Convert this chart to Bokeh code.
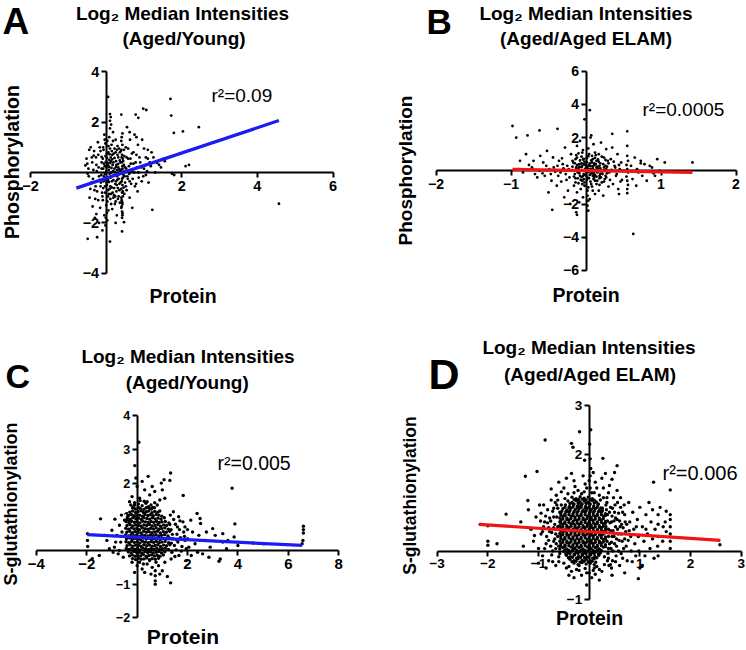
import math
from bokeh.plotting import figure
from bokeh.models import Range1d, LinearAxis, FixedTicker, Label
from bokeh.layouts import column, row
from bokeh.embed import file_html
from bokeh.resources import INLINE

# ---------------- data ----------------
a_points = [
    (0.05,3.0),(1.70,2.92),(1.72,2.26),(0.98,2.53),(1.06,2.48),(0.78,2.30),(0.85,2.17),(2.45,1.80),(1.79,1.57),(2.03,1.63),
    (0.10,2.32),(0.12,2.20),(0.10,2.05),(0.13,1.90),(0.10,1.75),(0.40,2.30),(4.57,-1.24),(1.22,-1.48),(-0.24,-2.57),(-0.49,-2.63),
    (0.10,-2.74),(-0.10,-2.30),(0.42,-2.34),(0.47,-1.97),(0.25,-2.00),(0.69,-1.40),(2.10,0.25),(2.19,0.30),(1.74,-0.05),(1.80,-0.10),
    (1.35,0.38),(1.51,0.54),(-0.55,0.28),(-0.49,-0.05),(-0.41,1.00),(-0.33,0.67),(0.62,1.60),(0.80,1.40),(1.10,0.90),(1.20,0.80),
    (-0.45,0.90),(-0.38,0.60),(-0.50,0.35),(-0.34,0.10),(-0.46,-0.15),(-0.40,-0.40),(-0.31,-0.70),(-0.44,-1.00),(-0.36,-1.35),(-0.30,-1.80),
    (-0.22,1.20),(-0.15,0.85),(-0.27,0.60),(-0.12,0.40),(-0.20,0.20),(-0.25,0.05),(-0.13,-0.10),(-0.18,-0.30),(-0.28,-0.55),(-0.11,-0.80),
    (-0.21,-1.10),(-0.16,-1.40),(-0.26,-1.65),(-0.19,-2.00),
    (-0.05,1.50),(0.03,1.25),(-0.08,1.00),(0.06,0.80),(-0.02,0.65),(0.08,0.50),(-0.06,0.35),(0.01,0.20),(0.07,0.10),(-0.04,-0.05),
    (0.04,-0.20),(-0.07,-0.35),(0.02,-0.50),(0.09,-0.65),(-0.03,-0.80),(0.05,-0.95),(-0.09,-1.10),(0.00,-1.30),(0.06,-1.50),(-0.05,-1.70),
    (0.03,-1.90),(-0.02,-2.10),
    (0.18,1.60),(0.25,1.30),(0.14,1.10),(0.28,0.90),(0.20,0.75),(0.12,0.60),(0.26,0.45),(0.17,0.30),(0.22,0.15),(0.13,0.00),
    (0.29,-0.15),(0.19,-0.30),(0.24,-0.45),(0.15,-0.60),(0.27,-0.75),(0.21,-0.90),(0.11,-1.05),(0.23,-1.25),(0.16,-1.45),(0.28,-1.70),
    (0.41,1.40),(0.43,1.10),(0.40,0.90),(0.42,0.70),(0.44,0.55),(0.41,0.40),(0.43,0.25),(0.40,0.10),(0.42,-0.05),(0.44,-0.20),
    (0.41,-0.35),(0.43,-0.50),(0.40,-0.65),(0.42,-0.80),(0.44,-0.95),(0.41,-1.10),(0.43,-1.25),(0.40,-1.40),(0.42,-1.55),(0.43,-1.70),
    (0.55,1.80),(0.63,1.30),(0.52,1.00),(0.68,0.75),(0.58,0.55),(0.65,0.35),(0.53,0.15),(0.61,-0.05),(0.57,-0.25),(0.66,-0.45),
    (0.54,-0.70),(0.62,-1.00),
    (0.75,1.50),(0.84,1.10),(0.72,0.80),(0.88,0.60),(0.78,0.40),(0.82,0.20),(0.74,0.00),(0.86,-0.20),(0.79,-0.45),(0.83,-0.75),
    (0.95,1.30),(1.05,0.60),(1.15,0.40),(0.93,0.20),(1.08,0.05),(0.98,-0.15),(1.12,-0.40),(1.00,0.95),
    (1.25,0.60),(1.40,0.30),(1.30,0.00),(1.55,0.45),(1.45,0.20),
    (-0.01,0.42),(0.05,0.28),(0.11,0.38),(0.16,0.52),(0.31,0.33),(0.35,0.12),(0.33,-0.08),(0.30,-0.28),(0.35,-0.45),(0.32,0.60),
    (-0.08,0.15),(-0.03,-0.28),(0.07,-0.38),(0.12,-0.20),(0.18,0.05),(0.26,0.22),(0.36,0.48),(0.47,0.30),(0.49,-0.15),(0.48,0.05),
    (0.02,0.58),(0.09,0.72),(0.15,0.85),(0.22,0.95),(-0.12,0.62),(0.30,1.05),(0.36,0.80),(0.48,0.65),(0.50,-0.40),(0.46,-0.60),
    (0.05,-0.70),(0.13,-0.85),(0.19,-1.00),(0.33,-0.95),(0.36,-1.20),(0.31,-0.62),(-0.15,-0.55),(-0.08,-0.62),(0.25,-1.15),(0.38,0.0),
    (-0.52,0.55),(-0.47,0.15),(-0.42,-0.65),(-0.37,0.40),(-0.35,-0.25),(-0.32,0.85),(-0.29,-1.05),(-0.26,0.30),(-0.24,-0.75),(-0.21,0.70),
    (-0.19,-0.15),(-0.17,1.00),(-0.14,-0.40),(-0.12,0.15),(-0.10,-0.95),(-0.09,0.55),(-0.07,0.90),(-0.06,-0.15),(-0.04,0.25),(-0.03,-0.55),
    (-0.02,1.15),(0.00,0.05),(0.01,-0.40),(0.02,0.75),(0.03,-1.15),(0.04,0.38),(0.05,-0.30),(0.06,1.05),(0.07,-0.85),(0.08,0.22),
    (0.09,-0.05),(0.10,0.95),(0.11,-0.55),(0.12,0.45),(0.13,-1.25),(0.14,0.18),(0.15,-0.35),(0.16,0.70),(0.17,-0.80),(0.18,1.25),
    (0.19,0.40),(0.20,-0.12),(0.21,-0.62),(0.22,0.58),(0.23,0.02),(0.24,-0.95),(0.25,0.80),(0.26,-0.35),(0.27,0.30),(0.28,-0.50),
    (0.29,0.10),(0.30,0.70),(0.31,-1.05),(0.32,0.20),(0.33,-0.25),(0.34,0.95),(0.35,-0.70),(0.36,0.05),(0.37,0.40),(0.38,-0.40),
    (0.39,0.85),(0.40,-1.00),(0.41,0.60),(0.42,-0.25),(0.43,0.15),(0.44,-0.75),(0.45,0.45),(0.46,-0.10),(0.47,0.90),(0.48,-0.85),
    (0.50,0.20),(0.52,-0.55),(0.54,0.60),(0.56,-0.15),(0.58,0.95),(0.60,0.25),(0.62,-0.35),(0.64,0.55),(0.66,0.05),(0.70,-0.25),
    (0.72,0.35),(0.76,-0.55),(0.80,0.70),(0.85,0.00),(0.90,0.40),(0.94,-0.35),(1.00,0.15),(1.05,-0.10),(1.10,0.55),(1.18,0.25),
    (0.42,-1.80),(0.43,-1.62),(0.41,-1.35),(0.42,-1.18),(0.40,1.25),(0.43,1.55),(0.02,-1.60),(-0.01,-1.80),(0.08,1.40),(-0.04,1.30),
]
a_fit_x = [-0.79, 4.57]
a_fit_y = [-0.62, 2.06]

b_points = [
    (-0.98,2.70),(-0.93,2.00),(-0.78,2.13),(-0.62,2.43),(-0.38,2.53),(-0.80,1.00),(0.05,3.65),(-0.02,3.10),(0.07,2.13),(0.35,2.23),
    (0.55,2.38),(0.55,1.50),(0.63,-3.80),(-0.45,-2.35),(-0.13,-2.50),(-0.12,-2.65),(0.02,-1.20),(0.02,-1.50),(0.03,-1.80),(0.02,-2.10),
    (0.03,-2.40),(0.44,-1.40),(0.55,-1.35),(1.42,0.50),(1.05,0.50),(0.95,0.70),(0.73,0.60),(0.73,0.45),
    (-0.88,0.60),(-0.72,0.20),(-0.84,-0.10),(-0.65,-0.40),(-0.76,0.35),(-0.68,-0.20),(-0.61,0.90),(-0.90,0.10),
    (-0.52,1.20),(-0.44,0.80),(-0.57,0.50),(-0.38,0.30),(-0.49,0.10),(-0.41,-0.05),(-0.55,-0.30),(-0.46,-0.60),(-0.39,-0.90),(-0.50,-1.30),
    (-0.36,0.60),(-0.58,-0.15),
    (-0.28,1.40),(-0.20,1.00),(-0.32,0.75),(-0.17,0.50),(-0.25,0.30),(-0.30,0.15),(-0.19,0.00),(-0.27,-0.20),(-0.22,-0.40),(-0.33,-0.65),
    (-0.16,-0.90),(-0.24,-1.20),(-0.29,-1.60),(-0.21,-2.00),(-0.18,0.60),(-0.34,-0.10),
    (-0.08,1.80),(-0.12,1.50),(-0.04,1.25),(-0.10,1.05),(-0.06,0.85),(-0.14,0.70),(-0.02,0.55),(-0.09,0.40),(-0.05,0.30),(-0.13,0.20),
    (-0.01,0.10),(-0.07,0.00),(-0.11,-0.10),(-0.03,-0.20),(-0.08,-0.30),(-0.14,-0.45),(-0.05,-0.60),(-0.10,-0.75),(-0.02,-0.90),(-0.07,-1.10),
    (-0.12,-1.30),(-0.04,-1.60),(-0.09,-1.90),(-0.13,0.95),(-0.06,0.45),(-0.11,-0.05),(-0.03,-0.50),
    (0.06,2.00),(0.10,1.60),(0.03,1.35),(0.12,1.10),(0.08,0.90),(0.01,0.75),(0.14,0.60),(0.05,0.45),(0.11,0.35),(0.02,0.25),
    (0.09,0.15),(0.13,0.05),(0.04,-0.05),(0.07,-0.15),(0.12,-0.25),(0.01,-0.35),(0.10,-0.50),(0.06,-0.65),(0.14,-0.80),(0.03,-1.00),
    (0.09,-1.20),(0.12,-1.40),(0.05,-1.70),(0.08,0.50),(0.14,0.20),(0.02,-0.10),(0.11,-0.40),
    (0.20,1.70),(0.27,1.30),(0.17,1.00),(0.24,0.80),(0.29,0.60),(0.19,0.45),(0.26,0.30),(0.16,0.15),(0.22,0.00),(0.28,-0.15),
    (0.18,-0.30),(0.25,-0.50),(0.21,-0.70),(0.30,-0.95),(0.17,-1.20),(0.23,-1.50),(0.27,0.10),(0.19,-0.20),
    (0.35,1.40),(0.42,1.00),(0.33,0.70),(0.47,0.50),(0.38,0.30),(0.45,0.10),(0.31,-0.10),(0.40,-0.30),(0.48,-0.55),(0.36,-0.80),
    (0.43,-1.10),(0.39,0.20),
    (0.55,0.90),(0.56,0.60),(0.54,0.35),(0.55,0.10),(0.56,-0.10),(0.54,-0.35),(0.55,-0.60),(0.56,-0.85),(0.55,-1.10),
    (0.65,0.80),(0.78,0.40),(0.88,0.20),(0.70,-0.10),(0.92,-0.30),(0.81,-0.60),(0.98,0.00),(0.67,-0.90),
    (-0.02,0.05),(0.00,0.18),(0.04,0.32),(0.07,0.62),(-0.04,0.68),(0.09,-0.30),(0.15,-0.60),(-0.06,-0.38),(0.01,-0.55),(0.13,0.40),
    (0.16,0.68),(-0.09,0.25),(0.06,0.12),(0.10,-0.08),(-0.01,-0.25),(0.18,0.30),(0.12,0.78),(0.03,0.88),(-0.05,-0.80),(0.08,-0.95),
    (0.18,-0.45),(0.24,0.20),(0.21,-0.05),(0.26,-0.30),(-0.12,0.35),(-0.15,-0.20),(0.04,-0.45),(0.09,0.28),(-0.03,0.40),(0.15,-0.10),
    (-0.18,0.25),(-0.16,-0.35),(-0.15,0.45),(-0.14,-0.70),(-0.13,0.10),(-0.12,0.80),(-0.11,-0.45),(-0.10,0.15),(-0.09,-0.15),(-0.08,0.62),
    (-0.07,-0.55),(-0.06,0.22),(-0.05,1.10),(-0.04,-0.32),(-0.03,0.72),(-0.02,-0.70),(-0.01,0.35),(0.00,-0.05),(0.01,0.52),(0.02,-0.42),
    (0.03,0.12),(0.04,1.00),(0.05,-0.25),(0.06,0.30),(0.07,-0.80),(0.08,0.05),(0.09,0.70),(0.10,-0.20),(0.11,0.45),(0.12,-0.60),
    (0.13,0.95),(0.14,-0.35),(0.15,0.25),(0.16,-0.05),(0.17,0.55),(0.18,-0.85),(0.19,0.15),(0.20,-0.40),(0.21,0.85),(0.22,-0.20),
    (0.23,0.40),(0.24,-0.65),(0.25,0.05),(0.26,0.65),(0.27,-0.40),(0.28,0.25),(0.29,-0.05),(0.30,0.45),(0.32,-0.55),(0.34,0.05),
    (0.37,0.55),(0.41,-0.20),(0.44,0.35),(0.46,-0.65),(0.50,0.00),(-0.23,0.10),(-0.26,-0.55),(-0.31,0.40),(-0.37,-0.30),(-0.43,0.20),
    (-0.47,-0.20),(-0.53,0.30),(-0.62,0.00),(-0.70,0.60),(0.60,0.30),(0.62,-0.50),(0.68,0.10),(0.75,-0.30),(0.85,0.30),(0.90,-0.15),
]
b_fit_x = [-0.98, 1.42]
b_fit_y = [0.08, -0.10]

c_points = [
    (0.07,3.21),(-0.09,2.52),(0.44,2.20),(0.96,2.00),(1.07,2.10),(1.33,2.30),(1.30,2.08),(1.83,1.63),(3.77,1.85),(3.88,0.79),
    (6.60,0.72),(6.60,0.62),(6.60,0.52),(6.55,0.20),(6.58,0.30),(5.03,0.20),(4.60,0.22),(3.40,0.50),(3.40,0.25),(3.30,-0.25),
    (3.25,-0.32),(2.38,1.10),(2.50,0.95),(2.52,0.80),(2.13,0.90),(-1.45,0.94),(-1.97,0.50),(-1.97,0.30),(-1.96,0.12),(-1.78,-0.24),
    (-1.50,-0.15),(-0.88,0.93),(0.72,-0.60),(0.72,-0.75),(0.72,-0.90),(0.72,-1.00),(1.33,-0.96),(1.20,-0.77),(-0.10,-0.65),
    (2.70,0.30),(2.90,0.10),(3.10,0.45),(2.20,0.55),(2.00,0.35),(2.60,-0.10),(3.00,0.65),(2.85,-0.20),(2.30,0.20),(2.45,0.45),
    (2.05,0.10),(1.90,0.70),(2.15,-0.15),(3.60,0.30),(3.85,0.40),(4.00,0.15),(3.55,0.05),(2.75,0.55),(2.40,-0.05),(1.95,-0.30),
    (-1.20,0.30),(-1.00,0.60),(-0.90,0.10),(-0.80,0.45),(-0.75,-0.10),(-0.70,0.75),(-1.10,0.05),(-0.65,0.25),(-0.60,0.55),(-0.85,0.25),
    (-1.30,0.45),(-0.55,-0.20),(-0.62,1.05),(-0.50,0.90),(-0.95,-0.05),(-0.70,0.00),
    (0.00,1.90),(0.30,1.80),(0.70,1.75),(-0.20,1.60),(0.10,1.55),(0.50,1.65),(0.90,1.50),(-0.30,1.45),(0.20,2.05),(0.60,1.90),
    (1.10,1.55),(0.40,1.45),(0.80,1.35),(-0.10,1.35),(1.00,1.80),(-0.05,2.15),
    (-0.25,1.35),(-0.10,1.42),(0.05,1.38),(0.20,1.33),(0.35,1.40),(0.55,1.35),(0.70,1.42),(0.12,1.48),(-0.15,1.30),(0.45,1.30),
    (0.62,1.28),(0.28,1.46),
    (0.00,-0.45),(0.20,-0.55),(0.40,-0.40),(0.60,-0.50),(0.85,-0.45),(1.00,-0.60),(0.30,-0.65),(0.50,-0.30),(0.10,-0.35),(0.75,-0.35),
    (1.10,-0.35),(0.90,-0.70),(-0.20,-0.35),(0.55,-0.70),(0.25,-0.40),
    (-0.18,1.26),(-0.07,1.23),(0.05,1.28),(0.14,1.24),(0.27,1.22),(0.36,1.27),(0.48,1.25),(0.57,1.23),(0.69,1.27),
    (-0.29,1.14),(-0.18,1.17),(-0.06,1.13),(0.04,1.16),(0.16,1.18),(0.25,1.13),(0.37,1.15),(0.46,1.17),(0.59,1.12),(0.70,1.16),
    (0.82,1.14),(0.90,1.17),
    (-0.34,1.04),(-0.23,1.07),(-0.12,1.03),(-0.01,1.06),(0.10,1.05),(0.21,1.02),(0.31,1.07),(0.43,1.04),(0.53,1.06),(0.64,1.03),
    (0.76,1.07),(0.86,1.05),(0.98,1.02),
    (-0.39,0.96),(-0.28,0.93),(-0.17,0.97),(-0.05,0.94),(0.06,0.96),(0.17,0.92),(0.27,0.97),(0.39,0.95),(0.50,0.93),(0.61,0.97),
    (0.72,0.94),(0.83,0.96),(0.95,0.93),(1.08,0.97),
    (-0.44,0.86),(-0.33,0.83),(-0.22,0.87),(-0.11,0.84),(0.00,0.86),(0.11,0.82),(0.22,0.87),(0.33,0.85),(0.44,0.83),(0.55,0.86),
    (0.66,0.84),(0.77,0.87),(0.88,0.83),(0.99,0.85),(1.12,0.86),(1.26,0.82),
    (-0.40,0.74),(-0.28,0.77),(-0.17,0.73),(-0.06,0.76),(0.05,0.75),(0.16,0.72),(0.27,0.76),(0.38,0.74),(0.49,0.77),(0.60,0.73),
    (0.71,0.75),(0.82,0.77),(0.93,0.72),(1.05,0.76),(1.17,0.74),(1.30,0.77),
    (-0.45,0.66),(-0.34,0.63),(-0.23,0.67),(-0.12,0.64),(-0.01,0.66),(0.10,0.62),(0.21,0.67),(0.32,0.65),(0.43,0.63),(0.54,0.66),
    (0.65,0.64),(0.76,0.67),(0.87,0.63),(0.98,0.65),(1.10,0.67),(1.24,0.63),
    (-0.41,0.54),(-0.29,0.57),(-0.18,0.53),(-0.07,0.56),(0.04,0.55),(0.15,0.52),(0.26,0.57),(0.37,0.54),(0.48,0.56),(0.59,0.53),
    (0.70,0.55),(0.81,0.57),(0.92,0.52),(1.04,0.56),(1.16,0.54),(1.29,0.57),
    (-0.46,0.46),(-0.35,0.43),(-0.24,0.47),(-0.13,0.44),(-0.02,0.46),(0.09,0.42),(0.20,0.47),(0.31,0.45),(0.42,0.43),(0.53,0.46),
    (0.64,0.44),(0.75,0.47),(0.86,0.43),(0.97,0.45),(1.09,0.47),(1.22,0.43),
    (-0.42,0.34),(-0.30,0.37),(-0.19,0.33),(-0.08,0.36),(0.03,0.35),(0.14,0.32),(0.25,0.37),(0.36,0.34),(0.47,0.36),(0.58,0.33),
    (0.69,0.35),(0.80,0.37),(0.91,0.32),(1.03,0.36),(1.15,0.34),(1.28,0.37),
    (-0.44,0.26),(-0.33,0.23),(-0.22,0.27),(-0.11,0.24),(0.00,0.26),(0.11,0.22),(0.22,0.27),(0.33,0.25),(0.44,0.23),(0.55,0.26),
    (0.66,0.24),(0.77,0.27),(0.88,0.23),(0.99,0.25),(1.11,0.27),(1.25,0.23),
    (-0.40,0.14),(-0.28,0.17),(-0.17,0.13),(-0.06,0.16),(0.05,0.15),(0.16,0.12),(0.27,0.17),(0.38,0.14),(0.49,0.16),(0.60,0.13),
    (0.71,0.15),(0.82,0.17),(0.93,0.12),(1.05,0.16),(1.17,0.14),(1.30,0.17),
    (-0.43,0.06),(-0.32,0.03),(-0.21,0.07),(-0.10,0.04),(0.01,0.06),(0.12,0.02),(0.23,0.07),(0.34,0.05),(0.45,0.03),(0.56,0.06),
    (0.67,0.04),(0.78,0.07),(0.89,0.03),(1.00,0.05),(1.12,0.07),(1.24,0.03),
    (-0.35,-0.04),(-0.24,-0.07),(-0.13,-0.03),(-0.02,-0.06),(0.09,-0.05),(0.20,-0.08),(0.31,-0.03),(0.42,-0.06),(0.53,-0.04),(0.64,-0.07),
    (0.75,-0.05),(0.86,-0.03),(0.97,-0.07),(1.10,-0.04),
    (-0.30,-0.16),(-0.19,-0.13),(-0.08,-0.17),(0.03,-0.14),(0.14,-0.16),(0.25,-0.12),(0.36,-0.17),(0.47,-0.15),(0.58,-0.13),(0.69,-0.16),
    (0.80,-0.14),(0.91,-0.17),(1.04,-0.13),
    (-0.18,-0.24),(-0.06,-0.27),(0.05,-0.23),(0.16,-0.26),(0.27,-0.25),(0.38,-0.22),(0.49,-0.27),(0.60,-0.24),(0.72,-0.26),(0.85,-0.23),
    (1.35,0.62),(1.42,0.35),(1.48,0.15),(1.38,-0.05),(1.52,0.78),(1.58,0.48),(1.62,0.25),(1.55,0.02),(1.68,0.62),(1.72,0.38),
    (1.78,0.12),(1.66,-0.15),(1.85,0.55),(1.90,0.30),(1.82,0.85),(1.95,0.05),(1.45,0.92),(1.36,0.22),(1.60,0.70),(1.75,-0.02),
    (1.40,0.48),(1.50,-0.18),(1.88,0.42),(2.00,0.62),(1.32,1.05),(1.44,1.15),(1.65,1.00),(1.70,0.88),(1.35,-0.25),(1.56,0.32),
]
c_fit_x = [-1.98, 6.55]
c_fit_y = [0.47, 0.15]

d_points = [
    (-0.19,2.46),(0.03,2.50),(-0.87,2.29),(-0.35,2.22),(-0.32,2.14),(-0.09,1.87),(0.27,1.91),(0.55,1.76),(-1.03,1.64),(-1.26,1.54),
    (1.60,1.26),(1.27,1.42),(1.52,0.82),(2.58,0.13),(-2.00,0.20),(-2.00,0.12),(-2.00,0.52),(-1.82,0.15),(-2.15,0.55),(-1.64,0.76),
    (-1.21,1.04),(0.97,-0.57),(-0.30,-0.55),(0.02,1.90),(0.03,1.70),(0.02,1.55),(-0.05,-0.70),(0.20,-0.60),(0.45,-0.50),(0.70,-0.45),
    (1.00,-0.35),(0.01,2.20),(0.02,1.30),
    (-0.65,1.15),(-0.50,1.30),(-0.42,1.18),(-0.30,1.45),(-0.22,1.25),(-0.12,1.55),(-0.05,1.30),(0.05,1.20),(0.12,1.42),(0.20,1.15),
    (0.28,1.30),(0.38,1.20),(0.45,1.48),(0.55,1.25),(-0.60,1.42),(-0.35,1.60),(0.00,1.45),(-0.15,1.18),(0.32,1.60),(-0.75,1.28),
    (0.62,1.10),(0.15,1.30),(-0.28,1.33),(0.40,1.35),(-0.45,1.50),(-0.08,1.38),(0.25,1.50),(0.50,1.62),(-0.55,1.22),(0.08,1.62),
    (-1.15,0.45),(-1.10,0.20),(-1.05,0.70),(-1.00,0.05),(-0.98,0.95),(-0.95,0.35),(-0.92,-0.10),(-0.88,0.60),(-0.85,0.15),(-0.82,0.85),
    (-0.80,-0.20),(-0.78,0.40),(-0.75,1.05),(-0.72,0.00),(-0.70,0.70),(-0.68,0.25),(-0.66,-0.30),(-0.64,0.95),(-0.62,0.50),(-0.60,0.10),
    (-0.60,-0.12),(-0.58,0.80),(-0.90,0.50),(-1.20,0.85),(-1.00,-0.25),(-0.70,0.48),(-0.85,-0.35),(-0.76,0.62),(-0.95,0.78),(-0.66,0.35),
    (-0.74,-0.08),(-0.62,1.05),(-0.80,0.22),(-1.08,0.32),(-0.58,0.60),(-0.70,0.88),(-0.90,0.95),(-0.65,0.15),(-1.30,0.10),(-1.35,0.60),
    (0.35,1.00),(0.36,0.75),(0.38,0.45),(0.35,0.20),(0.37,-0.05),(0.39,-0.30),(0.42,0.90),(0.44,0.60),(0.45,0.30),(0.43,0.05),
    (0.46,-0.20),(0.48,1.10),(0.50,0.80),(0.52,0.50),(0.50,0.15),(0.53,-0.10),(0.55,0.65),(0.57,0.35),(0.58,0.00),(0.60,-0.30),
    (0.62,0.90),(0.64,0.55),(0.65,0.20),(0.66,-0.15),(0.70,0.75),(0.72,0.40),(0.73,0.10),(0.75,-0.20),(0.78,1.00),(0.80,0.60),
    (0.82,0.30),(0.83,0.00),(0.86,0.80),(0.88,0.45),(0.90,0.15),(0.92,-0.10),(0.95,0.65),(0.97,0.30),(0.98,0.00),(1.00,0.90),
    (0.41,0.58),(0.47,0.42),(0.54,0.25),(0.61,0.50),(0.68,0.05),(0.77,0.22),(0.85,-0.22),(0.93,0.50),(0.40,0.15),(0.58,0.78),
    (0.33,0.50),(0.34,0.85),(0.36,-0.20),(0.49,0.62),(0.63,-0.05),(0.71,0.60),(0.79,0.42),(0.44,-0.35),(0.56,1.00),(0.69,0.95),
    (1.05,0.50),(1.08,0.20),(1.10,-0.10),(1.12,0.75),(1.15,0.35),(1.20,0.05),(1.22,0.60),(1.25,0.25),(1.28,-0.15),(1.30,0.45),
    (1.35,0.10),(1.36,0.30),(1.36,0.55),(1.36,0.75),(1.40,0.90),(1.45,0.20),(1.50,0.60),(1.52,0.40),(1.60,0.20),(1.60,0.35),
    (1.60,0.50),(1.60,0.65),(1.60,0.75),(1.60,0.05),(1.18,1.00),(1.05,-0.30),(1.36,-0.10),(1.46,0.50),(1.25,0.85),(1.12,0.45),
    (-0.45,-0.35),(-0.35,-0.42),(-0.25,-0.38),(-0.15,-0.50),(-0.08,-0.36),(0.00,-0.45),(0.08,-0.40),(0.15,-0.32),(0.25,-0.42),(-0.50,-0.25),
    (0.30,-0.28),(-0.20,-0.30),(0.05,-0.55),(-0.40,-0.50),(0.12,-0.48),
    (-0.62,0.30),(-0.64,0.70),(-0.66,0.05),(-0.68,0.55),(-0.70,0.20),(-0.72,0.82),(-0.74,0.38),(-0.76,0.10),(-0.78,0.68),(-0.80,0.48),
    (-0.84,0.30),(-0.86,0.72),(-0.88,0.05),(-0.92,0.40),(-0.96,0.62),(-0.62,0.88),(-0.67,1.00),(-0.60,-0.22),(-0.72,-0.22),(-0.82,0.58),
    (0.36,0.62),(0.38,0.30),(0.38,0.05),(0.40,0.80),(0.42,0.42),(0.44,0.18),(0.45,0.72),(0.47,0.00),(0.49,0.30),(0.51,0.95),
    (0.52,0.68),(0.54,0.10),(0.56,0.45),(0.59,0.22),(0.60,0.62),(0.63,0.35),(0.66,0.80),(0.67,0.48),(0.70,0.25),(0.74,0.55),
    (0.35,1.10),(0.46,0.88),(0.38,-0.15),(0.52,-0.22),(0.42,-0.28),(-0.10,1.22),(0.10,1.20),(-0.30,1.20),(0.22,1.05),(-0.48,1.08),
    (-0.40,-0.32),(-0.20,-0.40),(0.10,-0.35),(0.20,-0.38),(-0.05,-0.45),(0.30,-0.12),(0.33,0.95),(-0.55,0.95),(-0.58,-0.05),(0.28,1.10),
    (-0.34,1.11),(-0.26,1.08),(-0.18,1.12),(-0.10,1.09),(-0.02,1.11),(0.06,1.08),
    (-0.30,1.06),(-0.22,1.05),(-0.14,1.07),(-0.06,1.05),(0.02,1.06),(0.10,1.05),
    (-0.42,1.03),(-0.34,1.00),(-0.26,1.04),(-0.18,1.01),(-0.10,1.03),(-0.02,1.00),(0.06,1.04),(0.14,1.01),
    (-0.38,0.98),(-0.30,0.97),(-0.22,0.99),(-0.14,0.97),(-0.06,0.98),(0.02,0.97),(0.10,0.99),(0.18,0.97),
    (-0.47,0.95),(-0.39,0.92),(-0.31,0.96),(-0.23,0.93),(-0.15,0.95),(-0.07,0.92),(0.01,0.96),(0.09,0.93),(0.17,0.95),
    (-0.48,0.90),(-0.40,0.89),(-0.32,0.91),(-0.24,0.89),(-0.16,0.90),(-0.08,0.89),(0.00,0.91),(0.08,0.89),(0.16,0.90),(0.23,0.89),
    (-0.52,0.87),(-0.44,0.84),(-0.36,0.88),(-0.28,0.85),(-0.20,0.87),(-0.12,0.84),(-0.04,0.88),(0.04,0.85),(0.12,0.87),(0.20,0.84),(0.26,0.88),
    (-0.54,0.82),(-0.46,0.81),(-0.38,0.83),(-0.30,0.81),(-0.22,0.82),(-0.14,0.81),(-0.06,0.83),(0.02,0.81),(0.10,0.82),(0.18,0.81),(0.26,0.83),
    (-0.56,0.79),(-0.48,0.76),(-0.40,0.80),(-0.32,0.77),(-0.24,0.79),(-0.16,0.76),(-0.08,0.80),(0.00,0.77),(0.08,0.79),(0.16,0.76),(0.24,0.80),(0.32,0.77),
    (-0.56,0.74),(-0.48,0.73),(-0.40,0.75),(-0.32,0.73),(-0.24,0.74),(-0.16,0.73),(-0.08,0.75),(0.00,0.73),(0.08,0.74),(0.16,0.73),(0.24,0.75),(0.32,0.73),
    (-0.52,0.71),(-0.44,0.68),(-0.36,0.72),(-0.28,0.69),(-0.20,0.71),(-0.12,0.68),(-0.04,0.72),(0.04,0.69),(0.12,0.71),(0.20,0.68),(0.28,0.72),(-0.58,0.68),
    (-0.52,0.66),(-0.44,0.65),(-0.36,0.67),(-0.28,0.65),(-0.20,0.66),(-0.12,0.65),(-0.04,0.67),(0.04,0.65),(0.12,0.66),(0.20,0.65),(0.28,0.67),
    (-0.56,0.63),(-0.48,0.60),(-0.40,0.64),(-0.32,0.61),(-0.24,0.63),(-0.16,0.60),(-0.08,0.64),(0.00,0.61),(0.08,0.63),(0.16,0.60),(0.24,0.64),(0.32,0.61),
    (-0.56,0.58),(-0.48,0.57),(-0.40,0.59),(-0.32,0.57),(-0.24,0.58),(-0.16,0.57),(-0.08,0.59),(0.00,0.57),(0.08,0.58),(0.16,0.57),(0.24,0.59),(0.32,0.57),
    (-0.52,0.55),(-0.44,0.52),(-0.36,0.56),(-0.28,0.53),(-0.20,0.55),(-0.12,0.52),(-0.04,0.56),(0.04,0.53),(0.12,0.55),(0.20,0.52),(0.28,0.56),(-0.58,0.52),
    (-0.52,0.50),(-0.44,0.49),(-0.36,0.51),(-0.28,0.49),(-0.20,0.50),(-0.12,0.49),(-0.04,0.51),(0.04,0.49),(0.12,0.50),(0.20,0.49),(0.28,0.51),
    (-0.56,0.47),(-0.48,0.44),(-0.40,0.48),(-0.32,0.45),(-0.24,0.47),(-0.16,0.44),(-0.08,0.48),(0.00,0.45),(0.08,0.47),(0.16,0.44),(0.24,0.48),(0.32,0.45),
    (-0.56,0.42),(-0.48,0.41),(-0.40,0.43),(-0.32,0.41),(-0.24,0.42),(-0.16,0.41),(-0.08,0.43),(0.00,0.41),(0.08,0.42),(0.16,0.41),(0.24,0.43),(0.32,0.41),
    (-0.52,0.39),(-0.44,0.36),(-0.36,0.40),(-0.28,0.37),(-0.20,0.39),(-0.12,0.36),(-0.04,0.40),(0.04,0.37),(0.12,0.39),(0.20,0.36),(0.28,0.40),(-0.58,0.36),
    (-0.52,0.34),(-0.44,0.33),(-0.36,0.35),(-0.28,0.33),(-0.20,0.34),(-0.12,0.33),(-0.04,0.35),(0.04,0.33),(0.12,0.34),(0.20,0.33),(0.28,0.35),
    (-0.56,0.31),(-0.48,0.28),(-0.40,0.32),(-0.32,0.29),(-0.24,0.31),(-0.16,0.28),(-0.08,0.32),(0.00,0.29),(0.08,0.31),(0.16,0.28),(0.24,0.32),(0.32,0.29),
    (-0.56,0.26),(-0.48,0.25),(-0.40,0.27),(-0.32,0.25),(-0.24,0.26),(-0.16,0.25),(-0.08,0.27),(0.00,0.25),(0.08,0.26),(0.16,0.25),(0.24,0.27),(0.32,0.25),
    (-0.52,0.23),(-0.44,0.20),(-0.36,0.24),(-0.28,0.21),(-0.20,0.23),(-0.12,0.20),(-0.04,0.24),(0.04,0.21),(0.12,0.23),(0.20,0.20),(0.28,0.24),(-0.58,0.20),
    (-0.52,0.18),(-0.44,0.17),(-0.36,0.19),(-0.28,0.17),(-0.20,0.18),(-0.12,0.17),(-0.04,0.19),(0.04,0.17),(0.12,0.18),(0.20,0.17),(0.28,0.19),
    (-0.56,0.15),(-0.48,0.12),(-0.40,0.16),(-0.32,0.13),(-0.24,0.15),(-0.16,0.12),(-0.08,0.16),(0.00,0.13),(0.08,0.15),(0.16,0.12),(0.24,0.16),(0.32,0.13),
    (-0.56,0.10),(-0.48,0.09),(-0.40,0.11),(-0.32,0.09),(-0.24,0.10),(-0.16,0.09),(-0.08,0.11),(0.00,0.09),(0.08,0.10),(0.16,0.09),(0.24,0.11),(0.32,0.09),
    (-0.52,0.07),(-0.44,0.04),(-0.36,0.08),(-0.28,0.05),(-0.20,0.07),(-0.12,0.04),(-0.04,0.08),(0.04,0.05),(0.12,0.07),(0.20,0.04),(0.28,0.08),(-0.58,0.04),
    (-0.48,0.02),(-0.40,0.01),(-0.32,0.03),(-0.24,0.01),(-0.16,0.02),(-0.08,0.01),(0.00,0.03),(0.08,0.01),(0.16,0.02),(0.24,0.01),
    (-0.50,-0.01),(-0.42,-0.04),(-0.34,0.00),(-0.26,-0.03),(-0.18,-0.01),(-0.10,-0.04),(-0.02,0.00),(0.06,-0.03),(0.14,-0.01),(0.22,-0.04),
    (-0.46,-0.06),(-0.38,-0.05),(-0.30,-0.07),(-0.22,-0.05),(-0.14,-0.06),(-0.06,-0.05),(0.02,-0.07),(0.10,-0.05),(0.18,-0.06),
    (-0.45,-0.09),(-0.37,-0.12),(-0.29,-0.08),(-0.21,-0.11),(-0.13,-0.09),(-0.05,-0.12),(0.03,-0.08),(0.11,-0.11),(0.19,-0.09),
    (-0.41,-0.14),(-0.33,-0.13),(-0.25,-0.15),(-0.17,-0.13),(-0.09,-0.14),(-0.01,-0.13),(0.07,-0.15),(0.15,-0.14),
    (-0.38,-0.17),(-0.30,-0.20),(-0.22,-0.16),(-0.14,-0.19),(-0.06,-0.17),(0.02,-0.20),(0.10,-0.16),
    (-0.34,-0.22),(-0.26,-0.21),(-0.18,-0.23),(-0.10,-0.21),(-0.02,-0.22),(0.06,-0.21),(0.13,-0.23),
    (-0.30,-0.25),(-0.22,-0.28),(-0.14,-0.24),(-0.06,-0.27),(0.02,-0.25),(0.10,-0.28),
]
d_fit_x = [-2.17, 2.59]
d_fit_y = [0.55, 0.22]

a_xticks = [-2, 2, 4, 6]
a_yticks = [-4, -2, 2, 4]
b_xticks = [-2, -1, 1, 2]
b_yticks = [-6, -4, -2, 2, 4, 6]
c_xticks = [-4, -2, 2, 4, 6, 8]
c_yticks = [-2, -1, 1, 2, 3, 4]
d_xticks = [-3, -2, -1, 1, 2, 3]
d_yticks = [-1, 1, 2, 3]

title_line1 = "Log\u2082 Median Intensities"
a_title2 = "(Aged/Young)"
b_title2 = "(Aged/Aged ELAM)"
c_title2 = "(Aged/Young)"
d_title2 = "(Aged/Aged ELAM)"
a_r2 = "r\u00b2=0.09"
b_r2 = "r\u00b2=0.0005"
c_r2 = "r\u00b2=0.005"
d_r2 = "r\u00b2=0.006"
ylab_phos = "Phosphorylation"
ylab_sglut = "S-glutathionylation"
xlab = "Protein"

# ---------------- layout / style ----------------
W, H = 373, 325
FONT = "Liberation Sans"
BLUE = "#1c1cf0"
RED = "#f01414"
SHIFT = 0.34  # baseline correction (fraction of font size)


def make_panel(points, fit_x, fit_y, fit_color, xb, yb, xt, yt, geom, dot,
               fsx, fsy, texts):
    ox, oy, sx, sy = geom
    p = figure(width=W, height=H,
               x_range=Range1d(-ox / sx, (W - ox) / sx),
               y_range=Range1d(-(H - oy) / sy, oy / sy),
               x_axis_type=None, y_axis_type=None,
               toolbar_location=None, output_backend="svg",
               min_border=0, outline_line_color=None, title=None,
               background_fill_color="white", border_fill_color="white")

    def axis(ticks, bounds, fs, standoff):
        return LinearAxis(fixed_location=0, bounds=bounds,
                          ticker=FixedTicker(ticks=ticks),
                          axis_line_width=2, axis_line_color="black",
                          major_tick_line_width=2, major_tick_line_color="black",
                          major_tick_out=5, major_tick_in=0,
                          minor_tick_out=0, minor_tick_in=0,
                          major_label_text_font=FONT,
                          major_label_text_font_style="bold",
                          major_label_text_font_size=f"{fs}px",
                          major_label_text_color="black",
                          major_label_standoff=standoff,
                          level="underlay")

    p.add_layout(axis(xt, xb, fsx, 3), "below")
    p.add_layout(axis(yt, yb, fsy, 2), "left")

    xs = [q[0] for q in points]
    ys = [q[1] for q in points]
    p.scatter(xs, ys, size=dot, marker="circle", fill_color="black",
              line_color=None)
    p.line(fit_x, fit_y, line_width=3.2, line_color=fit_color)

    for (txt, fx, fy, fs, style, align, angle) in texts:
        if angle == 0:
            fy = fy - SHIFT * fs
        else:
            fx = fx - SHIFT * fs
        p.add_layout(Label(x=(fx - ox) / sx, y=(oy - fy) / sy, text=txt,
                           text_font=FONT, text_font_size=f"{fs}px",
                           text_font_style=style, text_align=align,
                           text_baseline="alphabetic", angle=angle,
                           text_color="black"))
    return p


R = math.pi / 2
pA = make_panel(a_points, a_fit_x, a_fit_y, BLUE, (-2, 6), (-4, 4), a_xticks, a_yticks,
                (105.7, 172.0, 37.8, 25.2), 2.8, 14.5, 14.5, [
                    ("A", 2, 34, 37, "bold", "left", 0),
                    (title_line1, 182, 19, 19, "bold", "center", 0),
                    (a_title2, 183.5, 44.5, 19, "bold", "center", 0),
                    (ylab_phos, 18, 161.5, 19.5, "bold", "center", R),
                    (xlab, 182.5, 302, 19.5, "bold", "center", 0),
                    (a_r2, 211, 101.7, 19, "normal", "left", 0),
                ])
pB = make_panel(b_points, b_fit_x, b_fit_y, RED, (-2, 2), (-6, 6), b_xticks, b_yticks,
                (212.5, 170.3, 75.0, 16.6), 2.8, 14, 14, [
                    ("B", 53, 33, 35, "bold", "left", 0),
                    (title_line1, 212.5, 19, 19, "bold", "center", 0),
                    (b_title2, 212.5, 44.5, 19, "bold", "center", 0),
                    (ylab_phos, 38.6, 170, 19, "bold", "center", R),
                    (xlab, 212.5, 301, 19.5, "bold", "center", 0),
                    (b_r2, 269, 115, 19, "normal", "left", 0),
                ])
pC = make_panel(c_points, c_fit_x, c_fit_y, BLUE, (-4, 8), (-2, 4), c_xticks, c_yticks,
                (136.6, 225.0, 25.2, 33.7), 3.4, 15, 12.5, [
                    ("C", 5, 62, 34, "bold", "left", 0),
                    (title_line1, 187.5, 37.6, 19, "bold", "center", 0),
                    (c_title2, 186.7, 63.6, 19, "bold", "center", 0),
                    (ylab_sglut, 16.2, 178.5, 18, "bold", "center", R),
                    (xlab, 182.5, 318, 21, "bold", "center", 0),
                    (c_r2, 217, 144, 19.5, "normal", "left", 0),
                ])
pD = make_panel(d_points, d_fit_x, d_fit_y, RED, (-3, 3), (-1, 3), d_xticks, d_yticks,
                (215.7, 225.5, 50.67, 48.5), 3.4, 13.5, 13.5, [
                    ("D", 55, 63, 43, "bold", "left", 0),
                    (title_line1, 215.5, 28.6, 19, "bold", "center", 0),
                    (d_title2, 216.5, 55.3, 19, "bold", "center", 0),
                    (ylab_sglut, 42.5, 170, 17.5, "bold", "center", R),
                    (xlab, 216, 299, 19.5, "bold", "center", 0),
                    (d_r2, 289, 154, 20, "normal", "left", 0),
                ])

layout = column(row(pA, pB, spacing=0), row(pC, pD, spacing=0), spacing=0)
open("out.html", "w").write(file_html(layout, INLINE))
